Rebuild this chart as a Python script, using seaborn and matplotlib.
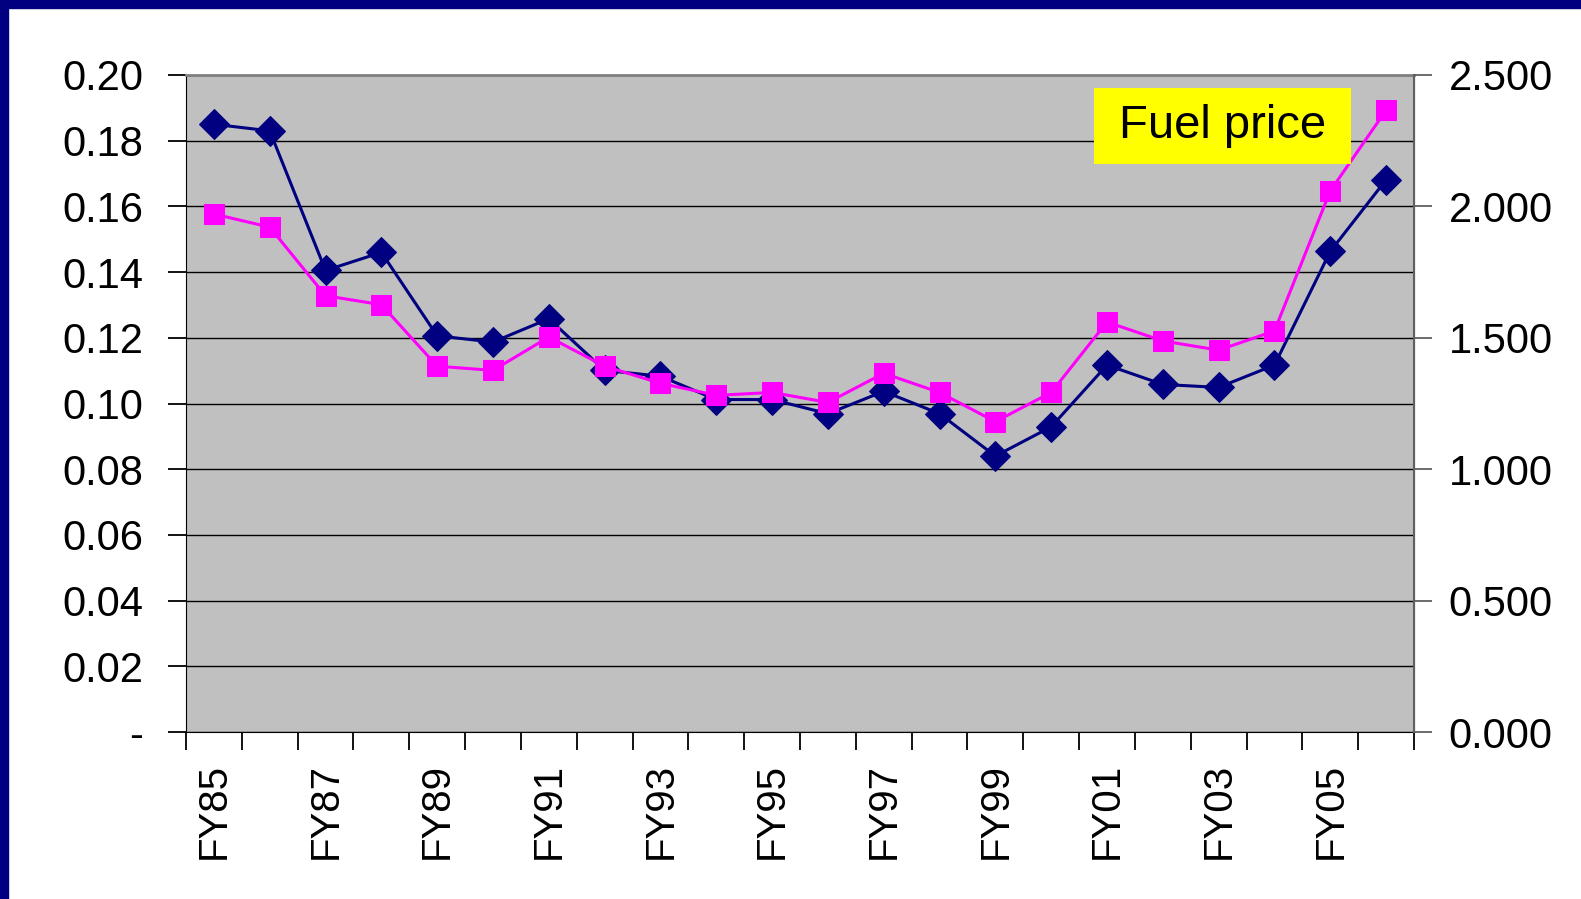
import matplotlib
matplotlib.use("Agg")
import matplotlib.pyplot as plt
import matplotlib.patches as patches
import seaborn as sns
import numpy as np
import pandas as pd

# fiscal years FY85..FY06
years = ['FY85', 'FY86', 'FY87', 'FY88', 'FY89', 'FY90', 'FY91', 'FY92', 'FY93', 'FY94', 'FY95',
         'FY96', 'FY97', 'FY98', 'FY99', 'FY00', 'FY01', 'FY02', 'FY03', 'FY04', 'FY05', 'FY06']
# navy series, left axis
cost = [0.185, 0.183, 0.1405, 0.146, 0.1206, 0.1187, 0.1258, 0.1101, 0.1083, 0.1012, 0.1012,
        0.0969, 0.1037, 0.0969, 0.0840, 0.0929, 0.1117, 0.1058, 0.1049, 0.1117, 0.1463, 0.1681]
# magenta series (fuel price), right axis
fuel_price = [1.971, 1.921, 1.660, 1.626, 1.392, 1.376, 1.503, 1.392, 1.327, 1.281, 1.292,
              1.254, 1.365, 1.292, 1.181, 1.292, 1.560, 1.488, 1.453, 1.526, 2.059, 2.366]
left_ticks = [0.0, 0.02, 0.04, 0.06, 0.08, 0.10, 0.12, 0.14, 0.16, 0.18, 0.20]
right_ticks = [0.0, 0.5, 1.0, 1.5, 2.0, 2.5]

df = pd.DataFrame({'pos': np.arange(len(years)), 'year': years,
                   'cost': cost, 'fuel': fuel_price})

sns.set_style('white')
plt.rcParams['font.family'] = ['Liberation Sans', 'DejaVu Sans']
plt.rcParams['text.color'] = 'black'
plt.rcParams['xtick.color'] = 'black'
plt.rcParams['ytick.color'] = 'black'

fig = plt.figure(figsize=(15.81, 8.99), dpi=100)
fig.patch.set_facecolor('white')
# navy frame on top and left edge
fig.patches.append(patches.Rectangle((0, 1 - 8 / 899), 1, 8 / 899, transform=fig.transFigure,
                                     color='#000080', zorder=0))
fig.patches.append(patches.Rectangle((0, 0), 8 / 1581, 1, transform=fig.transFigure,
                                     color='#000080', zorder=0))

ax = fig.add_axes([186 / 1581, 1 - 732 / 899, (1414 - 186) / 1581, (732 - 75) / 899])
ax.set_facecolor('#C0C0C0')
ax2 = ax.twinx()

sns.lineplot(data=df, x='pos', y='cost', ax=ax, color='#000080', marker='D', markersize=15,
             markeredgecolor='#000080', linewidth=2.2, zorder=3)
sns.lineplot(data=df, x='pos', y='fuel', ax=ax2, color='#FF00FF', marker='s', markersize=14,
             markeredgecolor='#FF00FF', linewidth=2.2, zorder=3)

ax.set_xlim(-0.5, len(years) - 0.5)
ax.set_ylim(0, 0.20)
ax2.set_ylim(0, 2.5)

ax.set_yticks(left_ticks)
ax.set_yticklabels(['-'] + ['%.2f' % t for t in left_ticks[1:]])
ax2.set_yticks(right_ticks)
ax2.set_yticklabels(['%.3f' % t for t in right_ticks])

ax.set_xticks(np.arange(-0.5, len(years)), minor=False)
ax.set_xticklabels([])
ax.set_xticks(np.arange(0, len(years), 2), minor=True)
ax.set_xticklabels(years[::2], minor=True, rotation=90)

ax.grid(axis='y', color='black', linewidth=1)
ax.set_axisbelow(True)
ax.tick_params(axis='x', which='major', direction='out', length=13, width=1.3, color='black',
               bottom=True)
ax.tick_params(axis='x', which='minor', length=0, pad=22, labelsize=29, bottom=True)
ax.tick_params(axis='y', direction='out', length=13, width=1.3, color='black', left=True,
               labelsize=30, pad=18)
ax2.tick_params(axis='y', direction='out', length=13, width=1.3, color='#606060', right=True,
                labelsize=30, pad=12)

for a in (ax, ax2):
    a.set_xlabel('')
    a.set_ylabel('')
ax.spines['left'].set_color('black')
ax.spines['bottom'].set_color('black')
ax.spines['top'].set_color('#808080')
ax.spines['top'].set_linewidth(2)
ax2.spines['right'].set_color('#606060')
ax2.spines['right'].set_linewidth(1.5)
for s in ('left', 'bottom', 'top'):
    ax2.spines[s].set_visible(False)

# label box for the fuel price series
ax2.add_patch(patches.Rectangle((0.7397, 0.865), 0.2086, 0.115, transform=ax2.transAxes,
                                facecolor='#FFFF00', edgecolor='none', zorder=5))
ax2.text(0.844, 0.922, 'Fuel price', transform=ax2.transAxes, fontsize=34, ha='center',
         va='center', color='black', zorder=6)

fig.savefig('out.png', dpi=100, facecolor='white')
